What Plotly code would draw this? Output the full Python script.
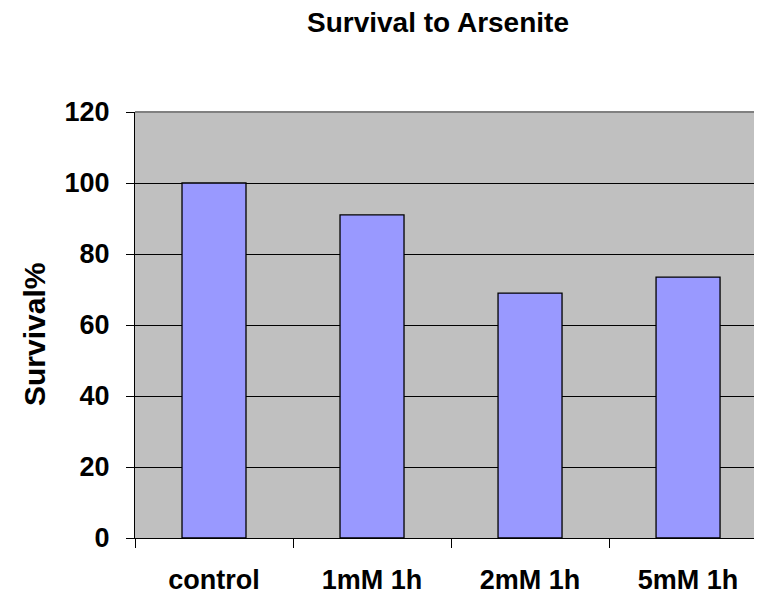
import plotly.graph_objects as go

categories = ["control", "1mM 1h", "2mM 1h", "5mM 1h"]
survival = [100, 91, 69, 73.5]
y_ticks = [0, 20, 40, 60, 80, 100, 120]

FONT = "Liberation Sans, Arial, sans-serif"
W, H = 754, 590  # page body has an 8px margin

fig = go.Figure()
fig.add_trace(go.Bar(
    x=categories, y=survival,
    marker=dict(color="#9999FF", line=dict(color="black", width=1.3)),
    width=0.405,
))

fig.update_layout(
    width=W, height=H,
    margin=dict(l=127, r=0, t=104, b=60),
    paper_bgcolor="white",
    plot_bgcolor="#C0C0C0",
    showlegend=False,
    font=dict(family=FONT, color="black"),
    title=dict(text="Survival to Arsenite", x=430 / W, xanchor="center",
               y=1 - 14 / H, yanchor="middle",
               font=dict(size=28, family=FONT, weight="bold")),
    annotations=[dict(
        text="Survival%", textangle=-90, xref="paper", yref="paper",
        x=(26 - 127) / 627, y=(530 - 327) / 426, xanchor="center", yanchor="middle",
        showarrow=False, font=dict(size=30, family=FONT, weight="bold"),
    )],
    shapes=[dict(type="line", xref="paper", yref="paper", x0=0, x1=1, y0=1, y1=1,
                 line=dict(color="#808080", width=2), layer="above")],
)
fig.update_xaxes(
    range=[-0.5, 3.468],
    showline=True, linecolor="black", linewidth=1,
    ticks="outside", tickson="boundaries", ticklen=9, tickcolor="black",
    tickfont=dict(size=27, family=FONT, weight="bold"),
    ticklabelstandoff=18,
    showgrid=False,
)
fig.update_yaxes(
    range=[0, 120], tickvals=y_ticks,
    showline=True, linecolor="black", linewidth=1,
    ticks="outside", ticklen=8, tickcolor="black",
    tickfont=dict(size=27, family=FONT, weight="bold"),
    ticklabelstandoff=11,
    showgrid=True, gridcolor="black", gridwidth=1,
    zeroline=False,
)

fig.write_html("out.html")
